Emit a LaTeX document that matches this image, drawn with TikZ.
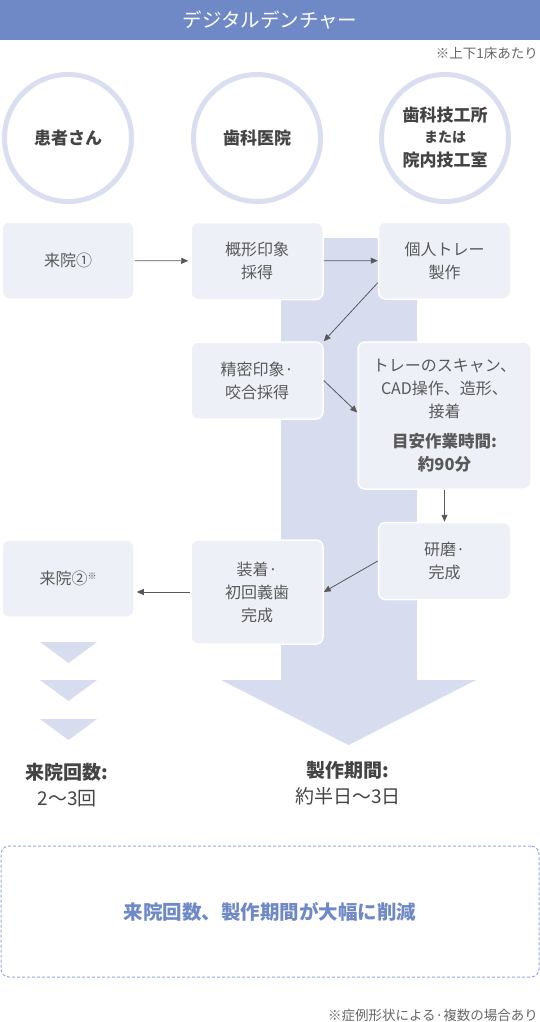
\documentclass[tikz,border=0pt]{standalone}
\usepackage{fontspec}
\setmainfont{Noto Sans CJK JP}
\usetikzlibrary{arrows.meta}

\definecolor{headblue}{HTML}{6F89C6}
\definecolor{ringblue}{HTML}{D9DEF0}
\definecolor{boxfill}{HTML}{EEF0F8}
\definecolor{bandfill}{HTML}{D7DCEE}
\definecolor{textgray}{HTML}{595959}
\definecolor{darkgray}{HTML}{444444}
\definecolor{dashblue}{HTML}{94A8DA}

\tikzset{
  party/.style={circle, draw=ringblue, line width=5pt, minimum size=127pt,
    inner sep=0pt, text=darkgray, align=center,
    font=\fontsize{17}{24}\selectfont\bfseries},
  stepbox/.style={rectangle, rounded corners=7pt, fill=boxfill, draw=white,
    line width=1.5pt, minimum width=132pt, minimum height=77pt, inner sep=0pt,
    text=textgray, align=center, font=\fontsize{16}{23}\selectfont},
  flow/.style={-{Triangle[length=7pt,width=6pt]}, draw=textgray, line width=0.8pt},
  note/.style={anchor=east, inner sep=0pt, text=black!60,
    font=\fontsize{13.5}{16}\selectfont},
  result/.style={align=center, inner sep=0pt, text=darkgray,
    font=\fontsize{19}{26}\selectfont}
}

\begin{document}
\begin{tikzpicture}[x=1pt, y=-1pt]
  \useasboundingbox (0,0) rectangle (540,1022);

  % Header
  \fill [headblue] (0,0) rectangle (540,40);
  \node [text=white, font=\fontsize{19.5}{24}\selectfont] (title) at (270,20) {デジタルデンチャー};
  \node [note] (perunit) at (538,53) {※上下1床あたり};

  % Parties
  \node [party] (patient) at (68,138) {患者さん};
  \node [party] (clinic) at (257,138) {歯科医院};
  \node [party] (lab) at (445,138)
    {歯科技工所\\[-3pt]{\fontsize{14}{18}\selectfont または}\\院内技工室};

  % Big arrow: production period
  \fill [bandfill] (281,238) -- (417,238) -- (417,680) -- (476,680)
    -- (348.5,745) -- (221,680) -- (281,680) -- cycle;

  % Chevrons below the second visit
  \foreach \y in {642,680,719}
    \fill [bandfill] (40,\y) -- (97,\y) -- (68.5,\y+21) -- cycle;

  % Steps
  \node [stepbox] (visit1) at (68,260.5) {来院①};
  \node [stepbox] (roughimp) at (257,261) {概形印象\\採得};
  \node [stepbox] (tray) at (444.5,260.5) {個人トレー\\製作};
  \node [stepbox] (finalimp) at (257,380.5) {精密印象·\\咬合採得};
  \node [stepbox, minimum width=173pt, minimum height=147pt] (cad) at (444.5,415.5)
    {トレーのスキャン、\\CAD操作、造形、\\接着\\[7pt]%
     {\fontsize{16.5}{23}\selectfont\bfseries 目安作業時間:}\\%
     {\fontsize{16.5}{23}\selectfont\bfseries 約90分}};
  \node [stepbox] (polish) at (444.5,561) {研磨·\\完成};
  \node [stepbox, minimum height=104pt] (fitting) at (257,592) {装着·\\初回義歯\\完成};
  \node [stepbox] (visit2) at (68,578.5)
    {来院②\raisebox{0.6ex}{\fontsize{9}{9}\selectfont ※}};

  % Connectors
  \draw [flow, shorten >=2pt] (visit1) -- (roughimp);
  \draw [flow] (roughimp) -- (tray);
  \draw [flow] ([yshift=17pt]tray.south west) -- (finalimp.north east);
  \draw [flow] (finalimp.east) -- ([yshift=3pt]cad.west);
  \draw [flow] (cad) -- (polish);
  \draw [flow] (polish.west) -- (fitting.east);
  \draw [flow, shorten >=2pt] (fitting.west) -- (fitting.west -| visit2.east);

  % Totals
  \node [result] (visits) at (67,785) {{\bfseries 来院回数:}\\2〜3回};
  \node [result] (period) at (348,783.5) {{\bfseries 製作期間:}\\約半日〜3日};

  % Summary
  \node [draw=dashblue, dashed, dash pattern=on 3pt off 2pt, line width=1pt,
    rounded corners=8pt, minimum width=538pt, minimum height=131pt,
    text=headblue, font=\fontsize{19.5}{24}\selectfont\bfseries]
    (summary) at (270,911.5) {来院回数、製作期間が大幅に削減};
  \node [note] (caveat) at (538,1015) {※症例形状による·複数の場合あり};
\end{tikzpicture}
\end{document}
